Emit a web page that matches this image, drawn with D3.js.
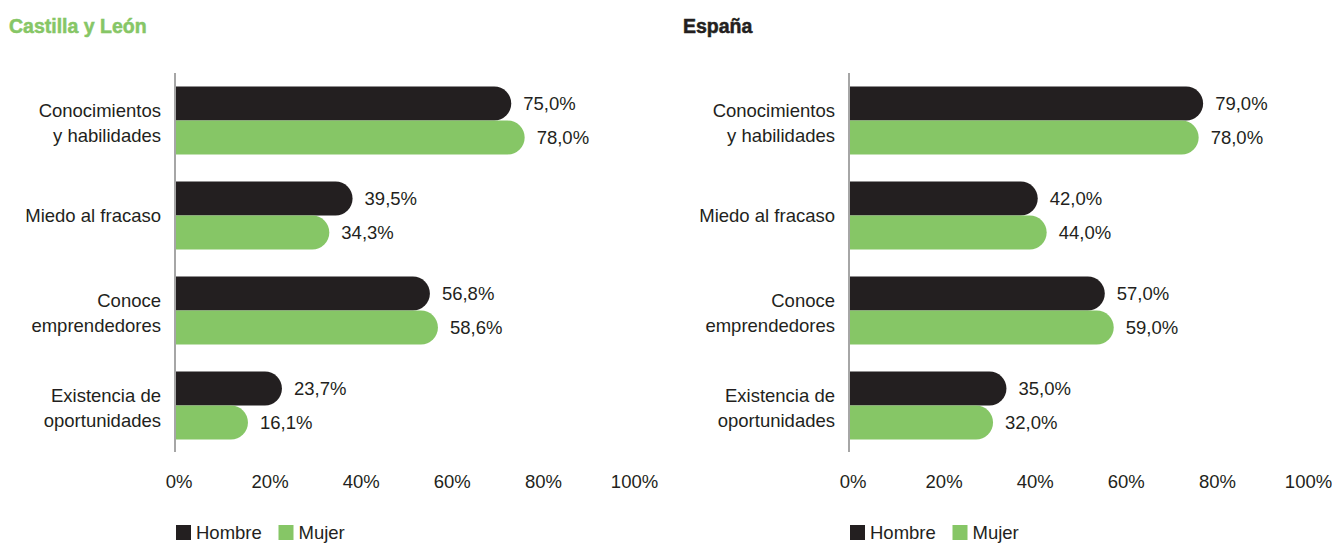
<!DOCTYPE html>
<html>
<head>
<meta charset="utf-8">
<script src="https://cdn.jsdelivr.net/npm/d3@7"></script>
<style>
  body { margin: 0; background: #fff; }
  svg { display: block; font-family: "Liberation Sans", Arial, sans-serif; }
</style>
</head>
<body>
<svg id="chart" width="1332" height="543"></svg>
<script>
// ---- data ----
const categories = [
  ["Conocimientos", "y habilidades"],
  ["Miedo al fracaso"],
  ["Conoce", "emprendedores"],
  ["Existencia de", "oportunidades"]
];
const series = ["Hombre", "Mujer"];
const panelTitles = ["Castilla y León", "España"];
const cylHombre = [75.0, 39.5, 56.8, 23.7];
const cylMujer  = [78.0, 34.3, 58.6, 16.1];
const espHombre = [79.0, 42.0, 57.0, 35.0];
const espMujer  = [78.0, 44.0, 59.0, 32.0];
const tickValues = [0, 20, 40, 60, 80, 100];

// ---- styles ----
const BLACK = "#231f20";
const GREEN = "#86c666";
const TEXT = "#231f20";
const FS = 18.5;
const colors = { Hombre: BLACK, Mujer: GREEN };

const svg = d3.select("#chart");
const locale = d3.formatLocale({ decimal: ",", thousands: ".", grouping: [3], currency: ["", "€"] });
const fmt = locale.format(".1f");

const panels = [
  { title: panelTitles[0], titleColor: GREEN, dx: 0, hombre: cylHombre, mujer: cylMujer },
  { title: panelTitles[1], titleColor: BLACK, dx: 674, hombre: espHombre, mujer: espMujer }
];

const catKeys = categories.map(c => c.join(" "));
const y = d3.scaleBand().domain(catKeys).range([73, 453]).paddingInner(0.284).paddingOuter(0.142);
const ySub = d3.scaleBand().domain(series).range([0, y.bandwidth()]).padding(0);

function roundedBar(x0, x1, yTop, h) {
  const r = h / 2;
  const w = x1 - x0;
  const rr = Math.min(r, w);
  const p = d3.path();
  p.moveTo(x0, yTop);
  p.lineTo(x1 - rr, yTop);
  p.arc(x1 - rr, yTop + r, r, -Math.PI / 2, Math.PI / 2, false);
  p.lineTo(x0, yTop + h);
  p.closePath();
  return p.toString();
}

panels.forEach(pn => {
  const g = svg.append("g").attr("transform", `translate(${pn.dx},0)`);
  const x = d3.scaleLinear().domain([0, 100]).range([176, 623]);
  const xTick = d3.scaleLinear().domain([0, 100]).range([178.5, 634]);

  // title
  g.append("text")
    .attr("x", 9).attr("y", 33)
    .attr("font-size", 19.5).attr("font-weight", "bold")
    .attr("fill", pn.titleColor).attr("stroke", pn.titleColor).attr("stroke-width", 0.5)
    .text(pn.title);

  const rows = [];
  catKeys.forEach((k, i) => {
    rows.push({ cat: k, s: "Hombre", v: pn.hombre[i] });
    rows.push({ cat: k, s: "Mujer", v: pn.mujer[i] });
  });

  // bars
  g.selectAll("path.bar").data(rows).join("path")
    .attr("class", "bar")
    .attr("fill", d => colors[d.s])
    .attr("d", d => roundedBar(x(0), x(d.v), y(d.cat) + ySub(d.s), ySub.bandwidth()));

  // value labels
  g.selectAll("text.val").data(rows).join("text")
    .attr("class", "val")
    .attr("x", d => x(d.v) + 12)
    .attr("y", d => y(d.cat) + ySub(d.s) + ySub.bandwidth() / 2)
    .attr("dy", "0.35em")
    .attr("font-size", FS).attr("fill", TEXT)
    .text(d => fmt(d.v) + "%");

  // axis line
  g.append("line")
    .attr("x1", 175).attr("x2", 175)
    .attr("y1", 73).attr("y2", 452)
    .attr("stroke", "#a6a6a6").attr("stroke-width", 2);

  // category labels
  categories.forEach((lines, i) => {
    const c = y(catKeys[i]) + y.bandwidth() / 2;
    const t = g.append("text")
      .attr("text-anchor", "end").attr("font-size", FS).attr("fill", TEXT);
    if (lines.length === 1) {
      t.append("tspan").attr("x", 161).attr("y", c + 6.5).text(lines[0]);
    } else {
      t.append("tspan").attr("x", 161).attr("y", c - 3.4).text(lines[0]);
      t.append("tspan").attr("x", 161).attr("y", c + 21).text(lines[1]);
    }
  });

  // x axis ticks
  const axis = d3.axisBottom(xTick).tickValues(tickValues).tickSize(0).tickPadding(0)
    .tickFormat(d => d + "%");
  const ag = g.append("g").attr("transform", "translate(0,488)").call(axis);
  ag.select(".domain").remove();
  ag.selectAll("text")
    .attr("dy", 0).attr("y", 0)
    .attr("font-size", FS).attr("fill", TEXT)
    .attr("font-family", "Liberation Sans, Arial, sans-serif");

  // legend
  const legX = [176, 278.5];
  const leg = g.selectAll("g.leg").data(series).join("g")
    .attr("class", "leg")
    .attr("transform", (d, i) => `translate(${legX[i]},525)`);
  leg.append("rect").attr("width", 15).attr("height", 15).attr("fill", d => colors[d]);
  leg.append("text").attr("x", 20).attr("y", 14)
    .attr("font-size", FS).attr("fill", TEXT).text(d => d);
});
</script>
</body>
</html>
